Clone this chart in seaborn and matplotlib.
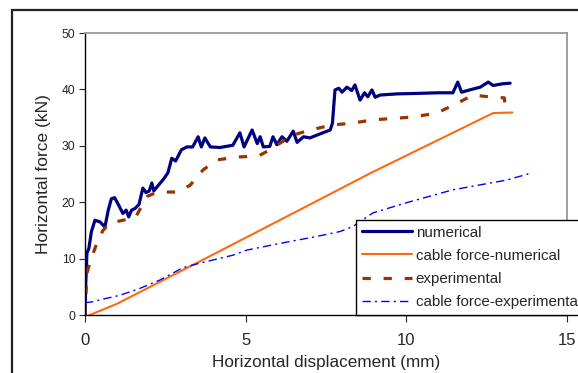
import matplotlib
matplotlib.use("Agg")
import matplotlib.pyplot as plt
from matplotlib.patches import Rectangle
import seaborn as sns

# values
num_x = [0.0, 0.02, 0.06, 0.12, 0.2, 0.31, 0.47, 0.62, 0.72, 0.82, 0.92, 1.0, 1.09, 1.18,
         1.28, 1.36, 1.45, 1.56, 1.68, 1.8, 1.9, 2.0, 2.08, 2.14, 2.24, 2.43, 2.58, 2.7,
         2.82, 3.0, 3.17, 3.35, 3.52, 3.62, 3.73, 3.9, 4.2, 4.6, 4.82, 4.95, 5.2, 5.36,
         5.45, 5.55, 5.75, 5.85, 5.97, 6.13, 6.28, 6.48, 6.6, 6.8, 7.0, 7.22, 7.4, 7.63,
         7.7, 7.78, 7.9, 8.0, 8.15, 8.3, 8.4, 8.56, 8.7, 8.8, 8.93, 9.03, 9.18, 9.7, 10.4,
         11.0, 11.45, 11.6, 11.72, 11.9, 12.3, 12.55, 12.7, 13.0, 13.23]
num_y = [0.0, 5.0, 11.0, 11.8, 14.8, 16.8, 16.5, 15.6, 18.5, 20.6, 20.8, 20.0, 19.0, 18.0,
         18.6, 17.4, 18.6, 18.9, 19.6, 22.5, 21.7, 22.0, 23.4, 22.0, 22.7, 24.0, 25.2, 27.8,
         27.3, 29.3, 29.8, 29.8, 31.6, 29.8, 31.4, 29.8, 29.7, 30.1, 32.3, 29.8, 32.8, 30.4,
         31.6, 29.8, 29.9, 31.6, 30.2, 31.6, 30.8, 32.6, 30.6, 31.6, 31.4, 31.9, 32.3, 32.8,
         34.0, 39.9, 40.2, 39.5, 40.4, 39.8, 40.8, 38.1, 39.4, 38.7, 39.9, 38.6, 39.0, 39.2, 39.3,
         39.4, 39.4, 41.3, 39.5, 39.8, 40.4, 41.3, 40.7, 41.0, 41.1]

cable_num_x = [0.15, 1.0, 3.4, 6.7, 8.9, 12.7, 13.3]
cable_num_y = [0.0, 2.0, 9.0, 18.7, 25.2, 35.8, 35.9]

exp_x = [0.0, 0.06, 0.15, 0.37, 0.56, 0.78, 1.18, 1.56, 1.93, 2.24, 2.86, 3.27, 3.67, 4.1,
         4.73, 5.4, 5.76, 6.16, 6.48, 7.0, 7.7, 8.3, 8.96, 10.2, 10.95, 11.6, 12.08, 12.7,
         13.05, 13.07]
exp_y = [0.0, 7.4, 9.2, 12.8, 15.0, 16.3, 16.8, 17.2, 21.0, 21.8, 21.8, 23.0, 25.7, 27.5,
         28.0, 28.2, 29.3, 30.8, 31.9, 32.8, 33.7, 34.0, 34.6, 35.1, 35.8, 37.6, 39.0, 38.6,
         38.5, 37.3]

cable_exp_x = [0.0, 0.2, 0.47, 1.09, 1.7, 2.33, 3.05, 3.58, 4.6, 5.03, 6.07, 7.1, 7.94,
               8.34, 8.96, 10.0, 11.45, 13.1, 13.85]
cable_exp_y = [2.2, 2.3, 2.7, 3.5, 4.7, 6.2, 8.4, 9.2, 10.6, 11.5, 12.7, 13.8, 14.8,
               15.7, 18.1, 19.9, 22.2, 23.9, 25.1]

labels = ["numerical", "cable force-numerical", "experimental", "cable force-experimental"]

sns.set_style("white")
plt.rcParams["font.family"] = ["Liberation Sans", "DejaVu Sans"]

fig = plt.figure(figsize=(5.78, 3.73), dpi=100)
ax = fig.add_axes([85 / 578, 58 / 373, 482 / 578, 282 / 373])

sns.lineplot(x=num_x, y=num_y, ax=ax, color="#000080", linewidth=2.3,
             sort=False, estimator=None, label=labels[0])
sns.lineplot(x=cable_num_x, y=cable_num_y, ax=ax, color="#FF6A10", linewidth=1.5,
             sort=False, estimator=None, label=labels[1])
sns.lineplot(x=exp_x, y=exp_y, ax=ax, color="#993300", linewidth=2.3,
             sort=False, estimator=None, label=labels[2], linestyle=(0, (2.6, 4.0)))
sns.lineplot(x=cable_exp_x, y=cable_exp_y, ax=ax, color="#0000FF", linewidth=1.0,
             sort=False, estimator=None, label=labels[3], linestyle=(0, (6, 3, 1.5, 3)))

ax.set_xlim(0, 15)
ax.set_ylim(0, 50)
ax.set_xticks([0, 5, 10, 15])
ax.set_yticks([0, 10, 20, 30, 40, 50])
ax.tick_params(axis="x", direction="out", length=5, width=0.8, pad=8, labelsize=12, bottom=True)
ax.tick_params(axis="y", direction="out", length=4, width=0.8, pad=3, labelsize=8.7, left=True)
ax.set_xlabel("Horizontal displacement (mm)", fontsize=12.3, labelpad=5)
ax.set_ylabel("Horizontal force (kN)", fontsize=12.5, labelpad=8)

for side in ["left", "bottom"]:
    ax.spines[side].set_color("black")
    ax.spines[side].set_linewidth(1.0)
for side in ["top", "right"]:
    ax.spines[side].set_color("#999999")
    ax.spines[side].set_linewidth(1.3)

leg = ax.legend(loc="lower left", bbox_to_anchor=((356 - 85) / 482, 0.0), borderaxespad=0,
                fontsize=10.9, handlelength=3.3, handletextpad=0.25, labelspacing=0.6,
                borderpad=0.4, frameon=True, fancybox=False, framealpha=1)
leg.get_frame().set_edgecolor("black")
leg.get_frame().set_linewidth(1.0)

# outer chart border, cut by the picture edge
fig.add_artist(Rectangle((12 / 578, -0.2), 1.2, (1 - 10 / 373) + 0.2, transform=fig.transFigure,
                         fill=False, edgecolor="#222222", linewidth=1.6))

fig.savefig("out.png", dpi=100)
